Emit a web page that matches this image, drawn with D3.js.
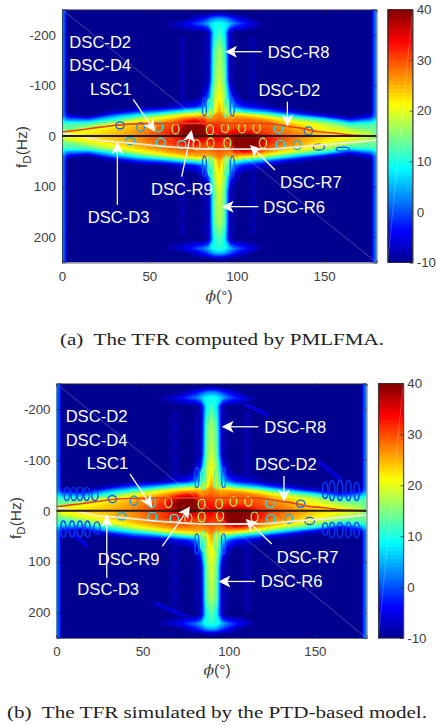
<!DOCTYPE html>
<html>
<head>
<title>TFR comparison</title>
<script src="https://d3js.org/d3.v7.min.js"></script>
<style>
  body { margin: 0; background: #fff; }
  svg text { font-family: "Liberation Sans", Arial, sans-serif; }
  .tick text { font-size: 13.3px; fill: #404040; }
  .tick line, .domain { stroke: #303030; stroke-width: 0.7; }
  .lab { font-size: 16.6px; fill: #fff; }
  svg text.caption { font-family: "Liberation Serif", serif; font-size: 17.2px; fill: #222; }
</style>
</head>
<body>
<div id="chart-container"></div>
<script>
// grid the TFR was read on (uneven, finer round the stem at 90 deg)
var phiGrid = [0,1.5,3,15,30,45,55,63,70,76,81,84,87,90,93,96,99,104,110,117,125,135,150,165,177,178.5,180];
var fdGrid = [-250,-243,-232,-222,-205,-170,-110,-75,-58,-48,-40,-32,-24,-14,-6,0,6,14,24,32,40,48,58,75,110,170,205,222,232,243,250];

// power in dB, one row per fdGrid entry
var tfr = [
[3,0,-10,-10,-10,-10,-10,-10,-10,-10,-10,-10,-10,-10,-10,-10,-10,-10,-10,-10,-10,-10,-10,-10,-10,0,3],
[3,0,-10,-10,-10,-10,-10,-10,-10,-10,-10,-10,-9,-8,-9,-10,-10,-10,-10,-10,-10,-10,-10,-10,-10,0,3],
[3,0,-10,-10,-10,-10,-10,-10,-10,-7,-3,0,3,4,3,0,-3,-7,-10,-10,-10,-10,-10,-10,-10,0,3],
[3,0,-10,-10,-10,-10,-10,-8,-5,-1,2,6,9,10,9,6,2,-2,-6,-10,-10,-10,-10,-10,-10,0,3],
[3,0,-10,-10,-10,-10,-10,-10,-10,-10,-10,-7,8,12,8,-7,-10,-10,-10,-10,-10,-10,-10,-10,-10,0,3],
[3,0,-10,-10,-10,-10,-10,-10,-10,-10,-10,-8,12,17,12,-8,-10,-10,-10,-10,-10,-10,-10,-10,-10,0,3],
[3,0,-10,-10,-10,-10,-10,-10,-10,-10,-10,-7,14,19,14,-7,-10,-10,-10,-10,-10,-10,-10,-10,-10,0,3],
[3,0,-10,-10,-10,-10,-10,-10,-10,-10,-6,3,17,22,17,3,-6,-10,-10,-10,-10,-10,-10,-10,-10,0,3],
[3,0,-10,-10,-10,-10,-10,-8,-5,-3,2,9,18,25,18,9,2,-3,-5,-8,-10,-10,-10,-10,-10,0,3],
[3,0,-10,-10,-8,0,3,7,11,14,15,16,20,26,20,16,15,10,7,4,-2,-7,-10,-10,-10,0,3],
[3,1,-5,-10,3,11,16,20,23,24,25,25,26,28,26,25,25,24,22,18,12,5,-5,-10,-5,1,3],
[8,6,3,2,11,20,23,26,30,33,31,27,28,29,28,27,28,29,28,26,22,17,10,-3,3,6,8],
[12,12,12,13,19,24,27,30,37,40,37,30,31,31,30,29,29,29,29,29,26,23,18,10,12,12,12],
[14,14,14,19,23,26,29,32,40,41,40,32,33,32,31,30,32,31,30,30,28,25,21,17,14,14,14],
[16,18,20,22,24,27,30,33,40,41,40,33,34,34,33,33,35,35,34,31,29,27,23,20,17,15,13],
[17,19,21,23,25,27,30,33,38,41,39,35,35,36,35,36,39,41,41,33,30,28,24,22,18,16,14],
[16,18,20,22,24,27,30,31,34,36,35,33,34,34,33,34,40,41,41,34,30,27,23,20,17,15,13],
[14,14,14,19,23,26,29,31,33,34,32,31,33,32,31,32,40,41,41,33,29,26,21,17,14,14,14],
[12,12,12,13,19,24,27,28,30,30,29,29,31,31,30,31,38,40,38,30,26,23,18,10,12,12,12],
[8,6,3,2,11,20,23,26,28,28,27,27,28,29,28,27,31,33,31,26,22,17,10,-3,3,6,8],
[3,1,-5,-10,3,11,16,20,23,24,25,25,26,28,26,25,25,24,22,18,12,5,-5,-10,-5,1,3],
[3,0,-10,-10,-8,0,3,7,11,14,15,16,20,26,20,16,15,10,7,4,-2,-7,-10,-10,-10,0,3],
[3,0,-10,-10,-10,-10,-10,-8,-5,-3,2,9,18,25,18,9,2,-3,-5,-8,-10,-10,-10,-10,-10,0,3],
[3,0,-10,-10,-10,-10,-10,-10,-10,-10,-6,3,17,22,17,3,-6,-10,-10,-10,-10,-10,-10,-10,-10,0,3],
[3,0,-10,-10,-10,-10,-10,-10,-10,-10,-10,-7,14,20,14,-7,-10,-10,-10,-10,-10,-10,-10,-10,-10,0,3],
[3,0,-10,-10,-10,-10,-10,-10,-10,-10,-10,-8,13,18,13,-8,-10,-10,-10,-10,-10,-10,-10,-10,-10,0,3],
[3,0,-10,-10,-10,-10,-10,-10,-10,-10,-10,-7,9,13,9,-7,-10,-10,-10,-10,-10,-10,-10,-10,-10,0,3],
[3,0,-10,-10,-10,-10,-10,-8,-5,-1,2,6,10,11,10,6,2,-2,-6,-10,-10,-10,-10,-10,-10,0,3],
[3,0,-10,-10,-10,-10,-10,-10,-10,-7,-3,0,4,5,4,0,-3,-7,-10,-10,-10,-10,-10,-10,-10,0,3],
[3,0,-10,-10,-10,-10,-10,-10,-10,-10,-10,-10,-9,-8,-9,-10,-10,-10,-10,-10,-10,-10,-10,-10,-10,0,3],
[3,0,-10,-10,-10,-10,-10,-10,-10,-10,-10,-10,-10,-10,-10,-10,-10,-10,-10,-10,-10,-10,-10,-10,-10,0,3]
];

// scattering centre tracks
var redPhi = [0,10,21,41,60,89,117,129,136,146,155,165,180];
var redFd = [-8,-12,-17,-24,-25,-25,-25,-19,-16,-9,-6,-2,0];
var whitePhi = [0,10,21,41,60,89,117,136,155,180];
var whiteFd = [-5,0,8,14.5,21,26,26,21,16,8];

// closed interference loops: phi, fd, half width deg, half height Hz, level dB
var loopsA = [
  [33.2,-21,2.4,7,1],[45,-18,2.2,9,4],[55.5,-18,2.2,10,9],[65,-14,2,10,18],[84.7,-12,2,10,17],
  [93.3,-16,2,9,17],[103,-16,2,10,18],[111.4,-16,2,10,17],[124,-14,2.4,8,8],[141,-10,2.4,8,2],
  [39,10,2.6,7,5],[56.5,13,2.6,9,8],[68.5,17,2.4,8,10],[77,17,2,10,17],[85,14,2,10,17],
  [94.6,14,2,10,16],[115,14,2,10,17],[125,17,2.4,9,8],[134.7,18,2.2,9,5],[147,22,3.2,6,0],[160.7,26,3.8,4,0],
  [84.7,-55,1.5,18,13],[94,-55,1.5,18,13],[85,60,1.5,20,13],[94,60,1.5,20,13],
  [81.5,-58,1.2,18,1],[97.5,-58,1.2,18,1],[81.5,60,1.2,20,1],[97.5,60,1.2,20,1]
];
var loopsB = [
  [32.4,-23,2.4,7,1],[45,-20,2.2,9,4],[55.3,-16,2.2,10,8],[65,-16,2,10,18],[84.3,-13,2,10,17],
  [94.4,-14,2,10,17],[102.7,-18,2,9,18],[111.4,-18,2,9,17],[124,-14,2.4,8,8],[141.8,-14,2.4,7,2],
  [37.9,11,2.6,7,5],[55.6,12,2.6,9,8],[68.4,15,2.4,8,10],[76.6,15,2,10,17],[84.3,12,2,10,17],
  [95,10,2,10,16],[115,12,2,10,17],[124.4,16,2.4,9,8],[135,16,2.2,9,5],[147,20,2.8,7,1],
  [85.2,-62,1.5,20,13],[93,-62,1.5,20,13],[85.2,60,1.5,20,13],[93,60,1.5,20,13],
  [81.5,-65,1.2,20,1],[97,-65,1.2,20,1],[81.5,65,1.2,20,1],[97,65,1.2,20,1],
  [6,-33,1.6,13,-1],[10,-33,1.6,13,-1],[13.6,-33,1.6,13,-1],[17.5,-33,1.6,13,-1],[22.3,-30,1.8,10,-1],
  [4,36,1.6,16,-1],[9,36,1.6,16,-1],[13.6,36,1.6,16,-1],[18,36,1.6,16,-1],[23.5,34,1.8,12,-1],
  [156,-40,1.6,16,-1],[160,-40,1.6,20,-1],[164.6,-40,1.6,20,-1],[169.5,-40,1.6,20,-1],[174.3,-38,1.6,18,-1],
  [156,36,1.6,12,-1],[160,38,1.6,15,-1],[164.6,38,1.6,15,-1],[169.5,38,1.6,15,-1],[174.3,38,1.6,15,-1]
];
// side lobe stripes next to the stem
var rippleA = [69,82,97,109];
var rippleB = [68.8,82,97.8,110.6];
// faint blue streaks
var streaksB = [
  [[66,-222],[80,-228],[100,-226],[122,-189]],
  [[58,183],[72,205],[90,222],[112,218]],
  [[153,-95],[164.6,-62]],
  [[4,29],[17.5,68.5]]
];

// text: label, phi, fd (left end of baseline)
var labelsA = [["DSC-D2",4.2,-174.5],["DSC-D4",4.2,-129],["LSC1",16,-81],["DSC-D2",112.4,-79.7],["DSC-R8",117.7,-155],
  ["DSC-R9",50.9,116.6],["DSC-R7",124.8,102],["DSC-R6",115.2,152.8],["DSC-D3",14.7,171]];
var labelsB = [["DSC-D2",5.3,-174],["DSC-D4",5.3,-127],["LSC1",17.5,-81.6],["DSC-D2",115.3,-80],["DSC-R8",120.7,-153],
  ["DSC-R9",23.9,105.6],["DSC-R7",127.9,102.3],["DSC-R6",118.6,150],["DSC-D3",12.1,166]];
// arrows: phi0, fd0, phi1, fd1 (tail then tip)
var arrowsA = [[114.3,-166.6,93.3,-166.6],[129,-67.8,129,-18.4],[40.8,-72.4,53.2,-8.6],[68.5,80.3,74.2,-11.9],
  [121.9,67.2,107.6,17.8],[112.4,139.6,91.4,139.6],[31.7,136.3,31.7,11.2]];
var arrowsB = [[117.2,-165,95.9,-165],[132.1,-68.5,132.1,-17.6],[42.7,-71.8,55.6,-6.6],[61.5,69.7,77.5,-8.5],
  [125,65.2,109.9,16.2],[115.3,138.9,94,138.9],[29.2,131.7,29.2,7.8]];

var phiTicks = [0,50,100,150];
var fdTicks = [-200,-100,0,100,200];
var barTicks = [-10,0,10,20,30,40];
var jetDomain = [-10,-3.75,8.75,21.25,33.75,40];
var jetColors = ["#00008f","#0000ff","#00ffff","#ffff00","#ff0000","#800000"];

var jet = d3.scaleLinear().domain(jetDomain).range(jetColors).clamp(true);
var levels = d3.range(-10, 40, 50 / 64);

var svg = d3.select("#chart-container").append("svg").attr("width", 436).attr("height", 726);
var defs = svg.append("defs");
defs.append("filter").attr("id", "soft").attr("x", "-5%").attr("y", "-5%").attr("width", "110%").attr("height", "110%")
  .append("feGaussianBlur").attr("stdDeviation", 0.55);

var flat = d3.merge(tfr);
var bands = d3.contours().size([phiGrid.length, fdGrid.length]).thresholds(levels.slice(1))(flat);

function drawPanel(p) {
  var x = d3.scaleLinear().domain([0, 180]).range([p.left, p.right]);
  var y = d3.scaleLinear().domain([-250, 250]).range([p.top, p.bottom]);
  var ix = d3.scaleLinear().domain(d3.range(phiGrid.length)).range(phiGrid);
  var iy = d3.scaleLinear().domain(d3.range(fdGrid.length)).range(fdGrid);

  defs.append("clipPath").attr("id", "clip" + p.id).append("rect")
    .attr("x", p.left).attr("y", p.top).attr("width", p.right - p.left).attr("height", p.bottom - p.top);

  var g = svg.append("g");
  var plot = g.append("g").attr("clip-path", "url(#clip" + p.id + ")");
  var heat = plot.append("g").attr("filter", "url(#soft)");

  heat.append("rect").attr("x", p.left).attr("y", p.top)
    .attr("width", p.right - p.left).attr("height", p.bottom - p.top).attr("fill", jet(-10));

  var line = d3.line().x(d => x(d[0])).y(d => y(d[1]));

  // streaks sit under the contour fills
  heat.selectAll(".streak").data(p.streaks).enter().append("path")
    .attr("d", d3.line().x(d => x(d[0])).y(d => y(d[1])).curve(d3.curveBasis))
    .attr("fill", "none").attr("stroke", jet(-6)).attr("stroke-width", 4).attr("stroke-linecap", "round");

  // side lobes
  p.ripple.forEach(function(phi) {
    [[-195, -72], [72, 195]].forEach(function(r) {
      heat.append("line").attr("x1", x(phi)).attr("x2", x(phi)).attr("y1", y(r[0])).attr("y2", y(r[1]))
        .attr("stroke", jet(-7)).attr("stroke-width", 7).attr("stroke-dasharray", "1.6 1.6");
    });
  });

  var path = d3.geoPath(d3.geoTransform({
    point: function(a, b) { this.stream.point(x(ix(a - 0.5)), y(iy(b - 0.5))); }
  }));
  heat.selectAll(".band").data(bands).enter().append("path")
    .attr("d", path)
    .attr("fill", d => jet(d.value + 25 / 64));

  heat.selectAll(".loop").data(p.loops).enter().append("ellipse")
    .attr("cx", d => x(d[0])).attr("cy", d => y(d[1]))
    .attr("rx", d => x(d[2]) - x(0)).attr("ry", d => y(d[3]) - y(0))
    .attr("fill", "none").attr("stroke", d => jet(d[4])).attr("stroke-width", 1.3);

  // scan artefact across the figure
  plot.append("line").attr("x1", p.left).attr("y1", p.top).attr("x2", p.right).attr("y2", p.bottom)
    .attr("stroke", "#fff").attr("stroke-opacity", 0.45).attr("stroke-width", 0.6);

  plot.append("path").datum(d3.zip(redPhi, redFd))
    .attr("d", line.curve(d3.curveMonotoneX)).attr("fill", "none").attr("stroke", "#e8401c").attr("stroke-width", 1.6);
  plot.append("path").datum(d3.zip(whitePhi, whiteFd))
    .attr("d", line.curve(d3.curveMonotoneX)).attr("fill", "none").attr("stroke", "#f3e8dc").attr("stroke-width", 1.8);
  plot.append("line").attr("x1", x(0)).attr("x2", x(180)).attr("y1", y(0)).attr("y2", y(0))
    .attr("stroke", "#241a10").attr("stroke-width", 2.2);

  // arrows
  p.arrows.forEach(function(a) {
    var x0 = x(a[0]), y0 = y(a[1]), x1 = x(a[2]), y1 = y(a[3]);
    var t = Math.atan2(y1 - y0, x1 - x0);
    g.append("line").attr("x1", x0).attr("y1", y0)
      .attr("x2", x1 - 6 * Math.cos(t)).attr("y2", y1 - 6 * Math.sin(t))
      .attr("stroke", "#fff").attr("stroke-width", 1.3);
    g.append("path").attr("d", "M0,0L-12,-6L-9,0L-12,6Z").attr("fill", "#fff")
      .attr("transform", "translate(" + x1 + "," + y1 + ") rotate(" + (t * 180 / Math.PI) + ")");
  });

  g.selectAll(".lab").data(p.labels).enter().append("text").attr("class", "lab")
    .attr("x", d => x(d[1])).attr("y", d => y(d[2])).text(d => d[0]);

  // axes with inward ticks, box on
  g.append("g").attr("transform", "translate(0," + p.bottom + ")")
    .call(d3.axisBottom(x).tickValues(phiTicks).tickSize(-3).tickPadding(9).tickFormat(String));
  g.append("g").attr("transform", "translate(0," + p.top + ")")
    .call(d3.axisTop(x).tickValues(phiTicks).tickSize(-3).tickFormat(""));
  g.append("g").attr("transform", "translate(" + p.left + ",0)")
    .call(d3.axisLeft(y).tickValues(fdTicks).tickSize(-3).tickPadding(6).tickFormat(String));
  g.append("g").attr("transform", "translate(" + p.right + ",0)")
    .call(d3.axisRight(y).tickValues(fdTicks).tickSize(-3).tickFormat(""));

  var xl = g.append("text").attr("x", p.xLabelX).attr("y", p.xLabelY).attr("text-anchor", "middle")
    .attr("fill", "#404040").style("font-size", "15.5px");
  xl.append("tspan").style("font-family", "DejaVu Serif").style("font-style", "italic").text("\u03D5");
  xl.append("tspan").text("(\u00B0)");

  var yl = g.append("text").attr("text-anchor", "middle").attr("fill", "#404040").style("font-size", "15.5px")
    .attr("transform", "translate(" + p.yLabelX + "," + p.yLabelY + ") rotate(-90)");
  yl.append("tspan").text("f");
  yl.append("tspan").attr("dy", 4).style("font-size", "11.5px").text("D");
  yl.append("tspan").attr("dy", -4).text("(Hz)");

  // colour bar
  var cy = d3.scaleLinear().domain([-10, 40]).range([p.bottom, p.top]);
  g.selectAll(".barcell").data(levels).enter().append("rect")
    .attr("x", p.barLeft).attr("width", p.barRight - p.barLeft)
    .attr("y", d => cy(d + 50 / 64) - 0.4).attr("height", cy(-10) - cy(-10 + 50 / 64) + 0.8)
    .attr("fill", d => jet(d + 25 / 64));
  g.append("line").attr("x1", p.barLeft).attr("y1", p.bottom).attr("x2", p.barRight).attr("y2", p.top)
    .attr("stroke", "#fff").attr("stroke-opacity", 0.35).attr("stroke-width", 0.6);
  g.append("g").attr("transform", "translate(" + p.barRight + ",0)")
    .call(d3.axisRight(cy).tickValues(barTicks).tickSize(-3).tickPadding(4).tickFormat(String));
  g.append("g").attr("transform", "translate(" + p.barLeft + ",0)")
    .call(d3.axisLeft(cy).tickValues(barTicks).tickSize(0).tickFormat(""));
  g.append("rect").attr("x", p.barLeft).attr("y", p.top).attr("width", p.barRight - p.barLeft)
    .attr("height", p.bottom - p.top).attr("fill", "none").attr("stroke", "#303030").attr("stroke-width", 0.7);

  g.append("text").attr("class", "caption").attr("x", p.capX).attr("y", p.capY)
    .attr("textLength", p.capW).attr("lengthAdjust", "spacingAndGlyphs").attr("xml:space", "preserve").text(p.caption);
}

drawPanel({
  id: "a", left: 62, right: 376.5, top: 9.5, bottom: 262.5,
  barLeft: 387.7, barRight: 412.7,
  xLabelX: 219, xLabelY: 301, yLabelX: 27, yLabelY: 147,
  capX: 60, capY: 345, capW: 324, caption: "(a)  The TFR computed by PMLFMA.",
  loops: loopsA, ripple: rippleA, streaks: [], labels: labelsA, arrows: arrowsA
});
drawPanel({
  id: "b", left: 56.5, right: 366.5, top: 383.5, bottom: 638,
  barLeft: 378.3, barRight: 403.3,
  xLabelX: 217, xLabelY: 675, yLabelX: 21, yLabelY: 518,
  capX: 7, capY: 718, capW: 420, caption: "(b)  The TFR simulated by the PTD-based model.",
  loops: loopsB, ripple: rippleB, streaks: streaksB, labels: labelsB, arrows: arrowsB
});
</script>
</body>
</html>
